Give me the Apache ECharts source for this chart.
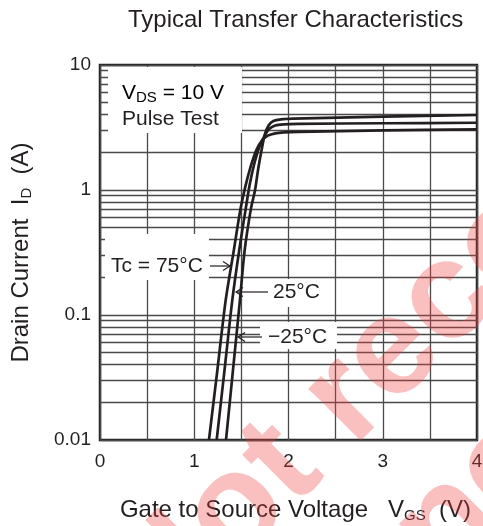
<!DOCTYPE html>
<html><head><meta charset="utf-8">
<script src="https://cdn.jsdelivr.net/npm/echarts@6/dist/echarts.min.js"></script>
<style>html,body{margin:0;padding:0;background:#fff}#c{width:483px;height:526px}</style>
</head><body><div id="c"></div>
<script>
// ---- data ----
const seriesNames = ['Tc = 75°C', '25°C', '−25°C'];
const curveTc75 = [[1.156,0.01],[1.243,0.035],[1.334,0.132],[1.42,0.33],[1.49,0.7],[1.54,1.05],[1.6,1.55],[1.66,2.1],[1.72,2.5],[1.78,2.72],[1.86,2.84],[1.95,2.89],[2.1,2.92],[3,3.0],[4,3.06]];
const curveTc25 = [[1.238,0.01],[1.319,0.035],[1.404,0.132],[1.477,0.33],[1.545,0.7],[1.588,1.1],[1.635,1.6],[1.69,2.2],[1.75,2.75],[1.8,3.1],[1.86,3.28],[1.95,3.35],[2.1,3.38],[3,3.42],[4,3.45]];
const curveTcM25 = [[1.337,0.01],[1.409,0.035],[1.485,0.132],[1.535,0.33],[1.6,0.7],[1.645,1.0],[1.68,1.5],[1.715,2.1],[1.75,2.8],[1.79,3.3],[1.84,3.56],[1.92,3.67],[2.05,3.72],[3,3.86],[4,3.98]];
const xTickLabels = [0, 1, 2, 3, 4];
const yTickLabels = [0.01, 0.1, 1, 10];
const yMinorGrid = [0.02,0.03,0.04,0.05,0.06,0.07,0.08,0.09,0.2,0.3,0.4,0.5,0.6,0.7,0.8,0.9,2,3,4,5,6,7,8,9];

const INK = '#231f20';
const FONT = '"Liberation Sans", Arial, sans-serif';
const GRIDC = '#4a4a4a';

const chart = echarts.init(document.getElementById('c'), null, {renderer: 'canvas'});

function curveSeries(name, data) {
  return {
    name, type: 'line', data, showSymbol: false, symbol: 'none',
    smooth: 0.3, z: 10,
    lineStyle: {color: INK, width: 2.7}, silent: true
  };
}

function arrow(x1, x2, y, headAtX) {
  const d = headAtX === x2 ? -7 : 7;
  const hx = headAtX;
  return [
    {type: 'line', z: 20, shape: {x1, y1: y, x2, y2: y}, style: {stroke: INK, lineWidth: 1.2}},
    {type: 'polyline', z: 20, shape: {points: [[hx + d, y - 4.5], [hx, y], [hx + d, y + 4.5]]}, style: {stroke: INK, lineWidth: 1.2, fill: null}}
  ];
}

const sub = {fontSize: 15, fontFamily: FONT, color: INK, padding: [11, 0, 0, 0]};
const WM = 45 * Math.PI / 180;

const option = {
  animation: false,
  backgroundColor: '#fff',
  grid: {left: 100, right: 6, top: 65, bottom: 86, show: true, borderColor: INK, borderWidth: 2.5,
         backgroundColor: 'transparent', outerBoundsMode: 'none', containLabel: false},
  xAxis: {
    type: 'value', min: 0, max: 4, interval: 0.5,
    axisLine: {show: false}, axisTick: {show: false},
    axisLabel: {
      margin: 12, fontSize: 19, fontFamily: FONT, color: INK,
      formatter: v => (xTickLabels.indexOf(v) >= 0 ? String(v) : '')
    },
    splitLine: {show: true, lineStyle: {color: GRIDC, width: 1.3}},
    name: '{a|Gate to Source Voltage   V}{s|GS}{a|  (V)}',
    nameLocation: 'middle', nameGap: 57,
    nameTextStyle: {padding: [0, 0, 0, 14], rich: {a: {fontSize: 24, fontFamily: FONT, color: INK}, s: sub}}
  },
  yAxis: {
    type: 'log', logBase: 10, min: 0.01, max: 10,
    axisLine: {show: false}, axisTick: {show: false},
    axisLabel: {
      margin: 9, fontSize: 19, fontFamily: FONT, color: INK,
      formatter: v => {
        const m = yTickLabels.find(t => Math.abs(Math.log10(t) - Math.log10(v)) < 1e-6);
        return m === undefined ? '' : String(m);
      }
    },
    splitLine: {show: true, lineStyle: {color: GRIDC, width: 1.3}},
    name: '{a|Drain Current  I}{s|D}{a|  (A)}',
    nameLocation: 'middle', nameGap: 66, nameRotate: 90,
    nameTextStyle: {rich: {a: {fontSize: 24, fontFamily: FONT, color: INK}, s: sub}}
  },
  series: [
    {
      type: 'line', data: [], z: 1, silent: true,
      markLine: {
        silent: true, symbol: 'none', animation: false,
        label: {show: false},
        lineStyle: {color: GRIDC, width: 1.3, type: 'solid'},
        data: yMinorGrid.map(v => ({yAxis: v}))
      }
    },
    curveSeries(seriesNames[0], curveTc75),
    curveSeries(seriesNames[1], curveTc25),
    curveSeries(seriesNames[2], curveTcM25)
  ],
  graphic: [
    {type: 'text', z: 30, x: 128, y: 20, style: {text: 'Typical Transfer Characteristics', font: '24px ' + FONT, fill: INK, textVerticalAlign: 'middle'}},
    // label boxes hiding the grid
    {type: 'rect', z: 8, shape: {x: 108, y: 67, width: 134, height: 66}, style: {fill: '#fff'}},
    {type: 'rect', z: 8, shape: {x: 105, y: 234, width: 104, height: 46}, style: {fill: '#fff'}},
    {type: 'rect', z: 8, shape: {x: 268, y: 279, width: 58, height: 28}, style: {fill: '#fff'}},
    {type: 'rect', z: 8, shape: {x: 260, y: 322, width: 77, height: 27}, style: {fill: '#fff'}},
    {type: 'text', z: 20, x: 122, y: 93, style: {
      text: '{a|V}{s|DS}{a| = 10 V}', textVerticalAlign: 'middle',
      rich: {a: {fontSize: 21, fontFamily: FONT, color: INK}, s: {fontSize: 15, fontFamily: FONT, color: INK, padding: [10, 0, 0, 0]}}
    }},
    {type: 'text', z: 20, x: 122, y: 119, style: {text: 'Pulse Test', font: '21px ' + FONT, fill: INK, textVerticalAlign: 'middle'}},
    {type: 'text', z: 20, x: 111, y: 266, style: {text: seriesNames[0], font: '21px ' + FONT, fill: INK, textVerticalAlign: 'middle'}},
    {type: 'text', z: 20, x: 273, y: 292, style: {text: seriesNames[1], font: '21px ' + FONT, fill: INK, textVerticalAlign: 'middle'}},
    {type: 'text', z: 20, x: 268, y: 337, style: {text: seriesNames[2], font: '21px ' + FONT, fill: INK, textVerticalAlign: 'middle'}},
    ...arrow(210, 230, 266, 230),
    ...arrow(236, 268, 292, 236),
    ...arrow(238, 262, 337, 238),
    // watermark
    {type: 'text', z: 40, x: 134, y: 613, rotation: WM, silent: true,
      style: {text: 'Not recommended', font: 'bold 140px ' + FONT, fill: 'rgba(240,60,60,0.33)', textVerticalAlign: 'middle'}},
    {type: 'text', z: 40, x: 258, y: 715, rotation: WM, silent: true,
      style: {text: 'for new design', font: 'bold 140px ' + FONT, fill: 'rgba(240,60,60,0.33)', textVerticalAlign: 'middle'}}
  ]
};
chart.setOption(option);
</script>
</body></html>
